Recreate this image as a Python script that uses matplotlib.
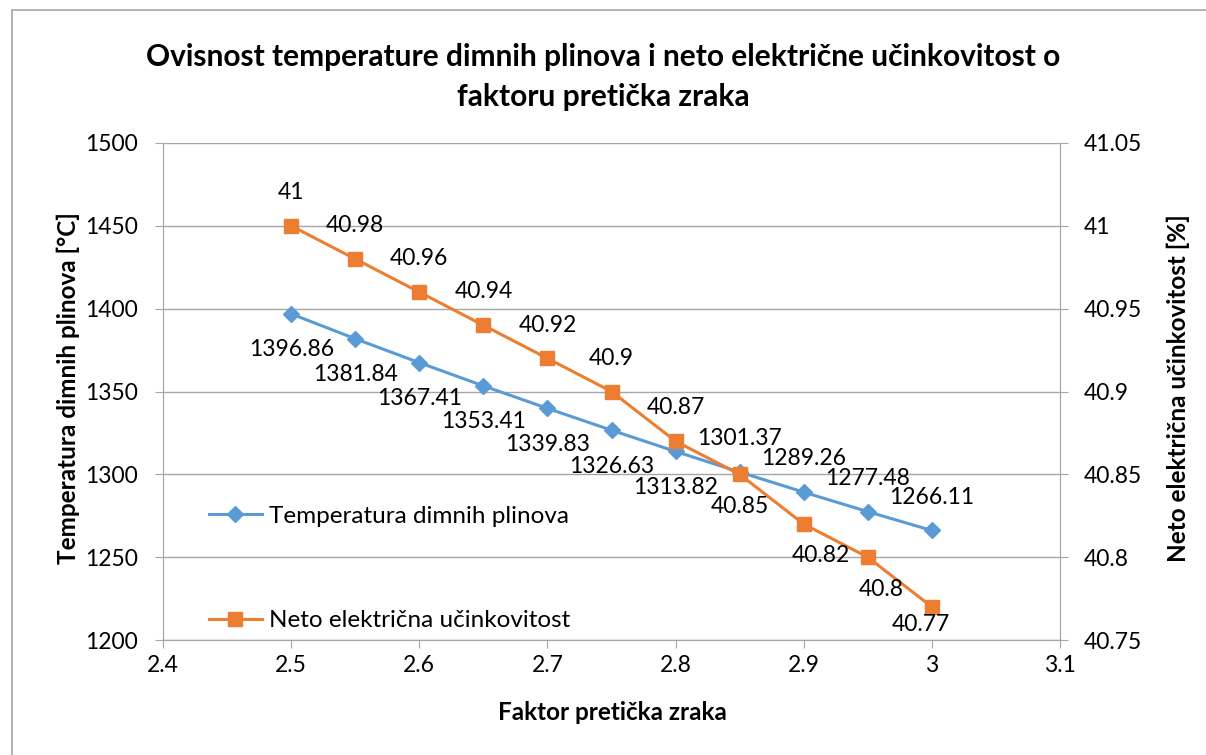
import matplotlib
matplotlib.use("Agg")
import matplotlib.pyplot as plt
from matplotlib.patches import Rectangle

plt.rcParams['font.family'] = ['Lato', 'DejaVu Sans']

# air excess factor and the two measured series
faktor = [2.5, 2.55, 2.6, 2.65, 2.7, 2.75, 2.8, 2.85, 2.9, 2.95, 3.0]
temperatura = [1396.86, 1381.84, 1367.41, 1353.41, 1339.83, 1326.63,
               1313.82, 1301.37, 1289.26, 1277.48, 1266.11]
ucinkovitost = [41, 40.98, 40.96, 40.94, 40.92, 40.9, 40.87, 40.85,
                40.82, 40.8, 40.77]

x_ticks = [2.4, 2.5, 2.6, 2.7, 2.8, 2.9, 3.0, 3.1]
t_ticks = [1200, 1250, 1300, 1350, 1400, 1450, 1500]
u_ticks = [40.75, 40.8, 40.85, 40.9, 40.95, 41, 41.05]

blue = '#5B9BD5'
orange = '#ED7D31'
grid_c = '#a6a6a6'
fs = 16.5
fs_lab = 17.5

fig = plt.figure(figsize=(12.06, 7.55), dpi=100)
ax = fig.add_axes([0.1352, 0.1523, 0.7437, 0.6583])
ax2 = ax.twinx()

l1, = ax.plot(faktor, temperatura, color=blue, lw=2.2, marker='D', ms=8,
              label='Temperatura dimnih plinova', zorder=3)
l2, = ax2.plot(faktor, ucinkovitost, color=orange, lw=2.2, marker='s', ms=10,
               label='Neto električna učinkovitost', zorder=3)

ax.set_xlim(2.4, 3.1)
ax.set_ylim(1200, 1500)
ax2.set_ylim(40.75, 41.05)
ax.set_xticks(x_ticks)
ax.set_xticklabels([f'{v:g}' for v in x_ticks])
ax.set_yticks(t_ticks)
ax2.set_yticks(u_ticks)
ax2.set_yticklabels([f'{v:g}' for v in u_ticks])

ax.grid(axis='y', color=grid_c, lw=1)
ax.set_axisbelow(True)
for a in (ax, ax2):
    a.spines['top'].set_visible(False)
    for s in ('left', 'right', 'bottom'):
        a.spines[s].set_color(grid_c)
ax.tick_params(axis='y', length=6, color=grid_c, labelsize=fs, pad=12)
ax.tick_params(axis='x', length=6, color=grid_c, labelsize=fs, pad=5)
ax2.tick_params(axis='y', length=6, color=grid_c, labelsize=fs, pad=11)

# value labels: temperature below the first points, above the rest
for i, (xv, yv) in enumerate(zip(faktor, temperatura)):
    dy = -26 if i < 7 else 24
    ax.annotate(f'{yv:g}', (xv, yv), xytext=(0, dy), textcoords='offset points',
                ha='center', va='center', fontsize=fs)
for i, (xv, yv) in enumerate(zip(faktor, ucinkovitost)):
    dy = 24 if i < 7 else -23
    dx = 0
    if i == 8:
        dx = 12
    elif i == 9:
        dx = 10
    elif i == len(faktor) - 1:
        dx, dy = -8, -13
    ax2.annotate(f'{yv:g}', (xv, yv), xytext=(dx, dy), textcoords='offset points',
                 ha='center', va='center', fontsize=fs)

ax2.legend(handles=[l1, l2], loc='upper left', bbox_to_anchor=(0.04, 0.29),
           frameon=False, fontsize=fs_lab, labelspacing=3.45, handlelength=2.2,
           handletextpad=0.3, borderaxespad=0)

fig.text(0.5, 1 - 57 / 755, 'Ovisnost temperature dimnih plinova i neto električne učinkovitost o',
         ha='center', va='center', fontsize=21.5, fontweight='bold')
fig.text(0.5, 1 - 97 / 755, 'faktoru pretička zraka',
         ha='center', va='center', fontsize=21.5, fontweight='bold')
fig.text(612 / 1206, 1 - 713 / 755, 'Faktor pretička zraka',
         ha='center', va='center', fontsize=fs_lab, fontweight='bold')
fig.text(68 / 1206, 1 - 388 / 755, 'Temperatura dimnih plinova [°C]',
         ha='center', va='center', rotation=90, fontsize=fs_lab, fontweight='bold')
fig.text(1178 / 1206, 1 - 388 / 755, 'Neto električna učinkovitost [%]',
         ha='center', va='center', rotation=90, fontsize=fs_lab, fontweight='bold')

# chart border
fig.patches.append(Rectangle((12 / 1206, -0.1), 1.2, 1.1 - 10 / 755,
                             transform=fig.transFigure, fill=False,
                             edgecolor='#a6a6a6', lw=1.2))

fig.savefig('out.png', dpi=100)
